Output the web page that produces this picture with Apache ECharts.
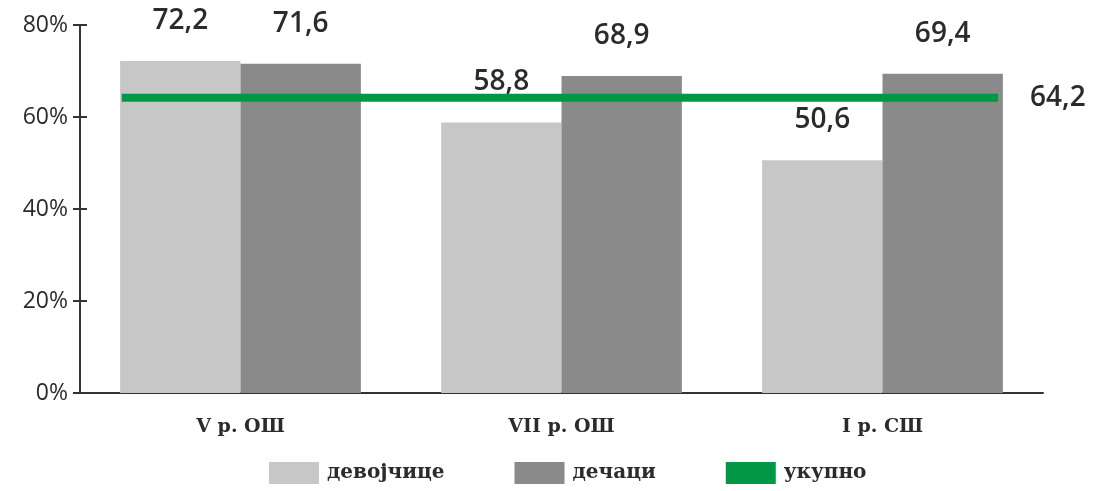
<!DOCTYPE html>
<html>
<head>
<meta charset="utf-8">
<script src="https://cdn.jsdelivr.net/npm/echarts@6/dist/echarts.min.js"></script>
<style>
  html, body { margin: 0; padding: 0; background: #fff; }
  #chart { width: 1096px; height: 491px; }
</style>
</head>
<body>
<div id="chart"></div>
<script>
const categories = ['V р. ОШ', 'VII р. ОШ', 'I р. СШ']
const girls = [72.2, 58.8, 50.6]
const boys = [71.6, 68.9, 69.4]
const total = 64.2
// horizontal extent of the total line, in category-index units
const totalSpan = [-0.37, 2.36]
const yTicks = [0, 20, 40, 60, 80]

const fmt = v => String(v).replace('.', ',')
const ink = '#2b2b2b'
const sansFont = '"Open Sans", "Noto Sans", sans-serif'
const serifFont = '"DejaVu Serif", "Liberation Serif", serif'

const chart = echarts.init(document.getElementById('chart'))

const valueLabel = {
  show: true,
  position: 'top',
  distance: 26,
  color: ink,
  fontFamily: sansFont,
  fontWeight: 600,
  fontSize: 28,
  formatter: p => fmt(p.value)
}

chart.setOption({
  animation: false,
  grid: { left: 80, right: 53, top: 25, bottom: 98 },
  legend: {
    bottom: 2,
    left: 264,
    itemWidth: 50,
    itemHeight: 22,
    itemGap: 70,
    icon: 'rect',
    textStyle: { color: ink, fontFamily: serifFont, fontWeight: 'bold', fontSize: 20, padding: [0, 0, 0, 3] },
    data: ['девојчице', 'дечаци', 'укупно']
  },
  xAxis: [
    {
      type: 'category',
      data: categories,
      axisLine: { lineStyle: { color: '#333', width: 2 } },
      axisTick: { show: false },
      axisLabel: { color: ink, fontFamily: serifFont, fontWeight: 'bold', fontSize: 19, margin: 25 }
    },
    {
      type: 'value',
      min: -0.5,
      max: categories.length - 0.5,
      show: false
    }
  ],
  yAxis: [
    {
      type: 'value',
      min: 0,
      max: yTicks[yTicks.length - 1],
      interval: 20,
      axisLine: { show: true, onZero: false, lineStyle: { color: '#333', width: 2 } },
      axisTick: { show: false },
      splitLine: { show: false },
      axisLabel: { color: ink, fontFamily: sansFont, fontWeight: 500, fontSize: 23, margin: 12, formatter: '{value}%' }
    },
    {
      // cross-shaped ticks: a second axis shifted into the grid
      type: 'value',
      position: 'left',
      offset: -7,
      min: 0,
      max: yTicks[yTicks.length - 1],
      interval: 20,
      axisLine: { show: false, onZero: false },
      axisTick: { show: true, length: 14, lineStyle: { color: '#333', width: 2 } },
      splitLine: { show: false },
      axisLabel: { show: false }
    }
  ],
  series: [
    {
      name: 'девојчице',
      type: 'bar',
      data: girls,
      barGap: '0%',
      barCategoryGap: '25%',
      itemStyle: { color: '#c6c7c6' },
      label: valueLabel
    },
    {
      name: 'дечаци',
      type: 'bar',
      data: boys,
      itemStyle: { color: '#8a8a8a' },
      label: valueLabel
    },
    {
      name: 'укупно',
      type: 'line',
      xAxisIndex: 1,
      data: totalSpan.map(x => [x, total]),
      symbol: 'none',
      lineStyle: { color: '#009845', width: 8, cap: 'butt' },
      itemStyle: { color: '#009845' },
      endLabel: {
        show: true,
        distance: 32,
        color: ink,
        fontFamily: sansFont,
        fontWeight: 600,
        fontSize: 28,
        formatter: p => fmt(p.value[1])
      }
    }
  ]
})
</script>
</body>
</html>
